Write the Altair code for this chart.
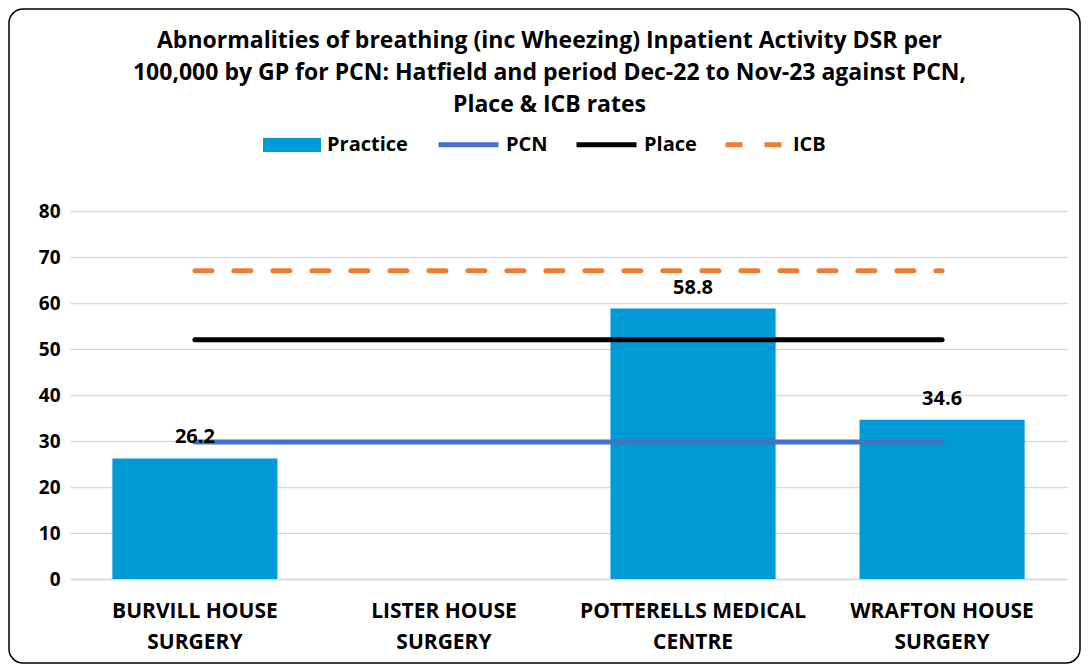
import altair as alt
import pandas as pd

categories = ["BURVILL HOUSE SURGERY", "LISTER HOUSE SURGERY",
              "POTTERELLS MEDICAL CENTRE", "WRAFTON HOUSE SURGERY"]
practice = [26.2, None, 58.8, 34.6]
pcn = [29.8, 29.8, 29.8, 29.8]
place = [52.0, 52.0, 52.0, 52.0]
icb = [67.0, 67.0, 67.0, 67.0]

title_lines = [
    "Abnormalities of breathing (inc Wheezing) Inpatient Activity DSR per",
    "100,000 by GP for PCN: Hatfield and period Dec-22 to Nov-23 against PCN,",
    "Place & ICB rates",
]

FONT = "Open Sans"

bars_df = pd.DataFrame({"category": categories, "value": practice, "series": "Practice"})
lines_df = pd.concat([
    pd.DataFrame({"category": categories, "value": pcn, "series": "PCN"}),
    pd.DataFrame({"category": categories, "value": place, "series": "Place"}),
    pd.DataFrame({"category": categories, "value": icb, "series": "ICB"}),
])

x_enc = alt.X("category:N", sort=categories,
              scale=alt.Scale(domain=categories, paddingInner=0.337, paddingOuter=0.17),
              axis=alt.Axis(title=None, labelAngle=0, ticks=False, labelLimit=400,
                            labelExpr="[substring(datum.label, 0, lastindexof(datum.label, ' ')), substring(datum.label, lastindexof(datum.label, ' ') + 1)]",
                            labelFontSize=21, labelFontWeight="bold", labelColor="#000000",
                            labelFont=FONT, labelPadding=21, labelLineHeight=31,
                            domainColor="#D9D9D9", domainWidth=1.5))
y_scale = alt.Scale(domain=[0, 80], nice=False)

bars = alt.Chart(bars_df).mark_bar(color="#009BD6").encode(
    x=x_enc,
    y=alt.Y("value:Q", scale=y_scale,
            axis=alt.Axis(title=None, values=[0, 10, 20, 30, 40, 50, 60, 70, 80],
                          ticks=False, domain=False, labelFontSize=19, labelFontWeight="bold",
                          labelColor="#000000", labelFont=FONT, labelPadding=10,
                          gridColor="#D9D9D9", gridWidth=1.5)),
    fill=alt.Fill("series:N",
                  scale=alt.Scale(domain=["Practice"], range=["#009BD6"]),
                  legend=alt.Legend(title=None, orient="none", legendX=193, legendY=-95,
                                    symbolType="M-1,-0.24H1V0.24H-1Z", symbolSize=3364,
                                    symbolStrokeWidth=0, symbolOpacity=1,
                                    labelFontSize=20, labelFontWeight="bold", labelFont=FONT,
                                    labelColor="#000000", labelOffset=6)),
)

labels = alt.Chart(bars_df).transform_filter("isValid(datum.value)").mark_text(
    baseline="bottom", dy=-11, fontSize=20, fontWeight="bold", font=FONT, color="#000000"
).encode(
    x=alt.X("category:N", sort=categories),
    y=alt.Y("value:Q", scale=y_scale),
    text=alt.Text("value:Q", format=".1f"),
)

line_legend = alt.Legend(title=None, orient="none", legendX=366, legendY=-99,
                         direction="horizontal", symbolType="stroke", symbolSize=3600,
                         symbolStrokeWidth=5, columnPadding=18,
                         labelFontSize=20, labelFontWeight="bold", labelFont=FONT,
                         labelColor="#000000", labelOffset=5)

series_order = ["PCN", "Place", "ICB"]
lines = alt.Chart(lines_df).mark_line(strokeWidth=5, strokeCap="round").encode(
    x=alt.X("category:N", sort=categories),
    y=alt.Y("value:Q", scale=y_scale),
    stroke=alt.Stroke("series:N",
                      scale=alt.Scale(domain=series_order, range=["#4472C4", "#000000", "#ED7D31"]),
                      legend=line_legend),
    strokeDash=alt.StrokeDash("series:N",
                              scale=alt.Scale(domain=series_order, range=[[1, 0], [1, 0], [17, 22]]),
                              legend=line_legend),
    detail="series:N",
)

frame = alt.Chart(pd.DataFrame({"a": [0]})).mark_rect(
    fill=None, stroke="#000000", strokeWidth=1.5, cornerRadius=14
).encode(
    x=alt.value(-61), x2=alt.value(1010), y=alt.value(-202), y2=alt.value(452)
)

chart = alt.layer(bars, lines, labels, frame).properties(
    width=997, height=368,
    padding={"left": 62, "top": 203, "right": 14, "bottom": 85},
    autosize=alt.AutoSizeParams(type="none"),
    background="white",
    title=alt.Title(title_lines, fontSize=23, fontWeight="bold", font=FONT, color="#000000",
                    lineHeight=32, anchor="middle", dx=-19, offset=0, dy=109),
).resolve_scale(fill="independent").configure_view(stroke=None)

chart.save("out.html", embed_options={"renderer": "svg", "actions": False})
